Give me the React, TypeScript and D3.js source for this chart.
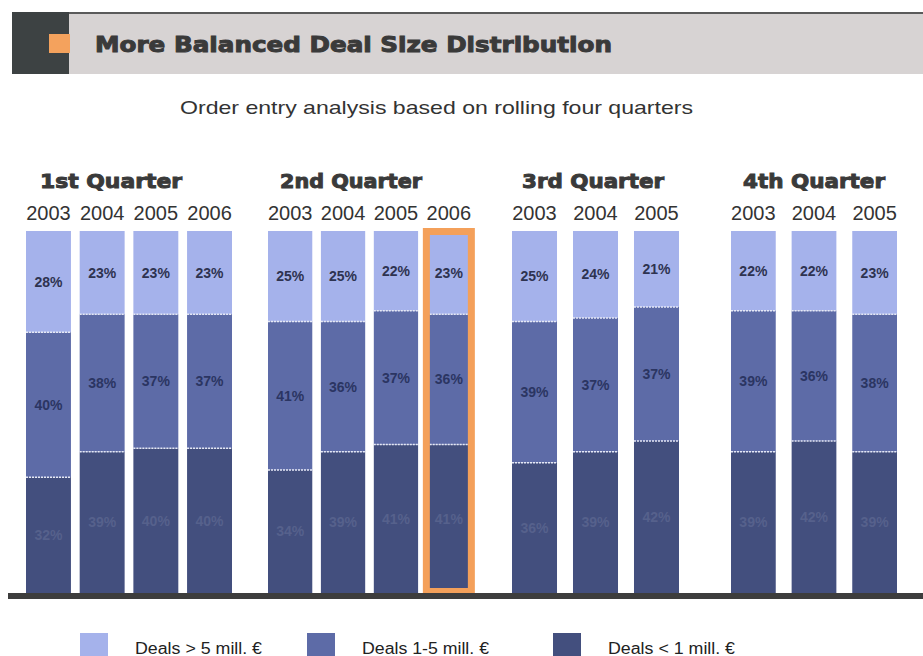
import React from "react";
import * as d3 from "d3";

const quarters = ["1st Quarter", "2nd Quarter", "3rd Quarter", "4th Quarter"];
const years = [
  ["2003", "2004", "2005", "2006"],
  ["2003", "2004", "2005", "2006"],
  ["2003", "2004", "2005"],
  ["2003", "2004", "2005"],
];
// Deals > 5 mill. €
const large = [
  [28, 23, 23, 23],
  [25, 25, 22, 23],
  [25, 24, 21],
  [22, 22, 23],
];
// Deals 1-5 mill. €
const medium = [
  [40, 38, 37, 37],
  [41, 36, 37, 36],
  [39, 37, 37],
  [39, 36, 38],
];
// Deals < 1 mill. €
const small = [
  [32, 39, 40, 40],
  [34, 39, 41, 41],
  [36, 39, 42],
  [39, 42, 39],
];
const seriesNames = ["Deals > 5 mill. €", "Deals 1-5 mill. €", "Deals < 1 mill. €"];
const highlight = { q: 1, i: 3 };

const W = 923;
const H = 656;
const groupRanges: [number, number][] = [
  [26, 232],
  [268, 471],
  [512, 679],
  [731, 897],
];
const qLabelX = [40, 280, 522, 743];
const colors = ["#a5b2eb", "#5d6ba7", "#434f7e"];
const labelColors = ["#2e3350", "#2b3562", "#56618c"];
const FONT = "'Liberation Sans', Arial, sans-serif";
const BOLD = "'DejaVu Sans', 'Liberation Sans', sans-serif";

export default function App() {
  const y = d3.scaleLinear().domain([0, 100]).range([593, 231]);
  const legendX = [80, 307, 553];

  return (
    <svg
      width={W}
      height={H}
      style={{ position: "absolute", left: 0, top: 0, background: "#fff" }}
    >
      {/* header */}
      <rect x={12} y={13} width={W - 12} height={61} fill="#d7d3d3" />
      <rect x={12} y={12} width={W - 12} height={2} fill="#5a5a5a" />
      <rect x={12} y={12} width={57} height={62} fill="#3d4243" />
      <rect x={49} y={34} width={21} height={19} fill="#f4a25d" />
      <text
        x={95}
        y={52}
        fontFamily={BOLD}
        fontWeight="bold"
        fontSize={22}
        fill="#3a3a3a"
        stroke="#3a3a3a"
        strokeWidth={1}
        textLength={517}
        lengthAdjust="spacingAndGlyphs"
      >
        More Balanced Deal Size Distribution
      </text>
      <text
        x={180}
        y={114}
        fontFamily={FONT}
        fontSize={19}
        fill="#333"
        textLength={513}
        lengthAdjust="spacingAndGlyphs"
      >
        Order entry analysis based on rolling four quarters
      </text>

      {quarters.map((q, qi) => {
        const x = d3
          .scaleBand<string>()
          .domain(years[qi])
          .range(groupRanges[qi])
          .paddingInner(years[qi].length === 4 ? 0.163 : 0.262)
          .paddingOuter(0);
        const bw = x.bandwidth();
        return (
          <g key={q}>
            <text
              x={qLabelX[qi]}
              y={188}
              fontFamily={BOLD}
              fontWeight="bold"
              fontSize={20}
              fill="#3a3a3a"
              stroke="#3a3a3a"
              strokeWidth={1}
              textLength={142}
              lengthAdjust="spacingAndGlyphs"
            >
              {q}
            </text>
            {years[qi].map((yr, i) => {
              const x0 = x(yr)!;
              const cx = x0 + bw / 2;
              const vals = [large[qi][i], medium[qi][i], small[qi][i]];
              const b2 = small[qi][i];
              const b1 = b2 + medium[qi][i];
              const segs = [
                { lo: b1, hi: 100 },
                { lo: b2, hi: b1 },
                { lo: 0, hi: b2 },
              ];
              const isHl = highlight.q === qi && highlight.i === i;
              return (
                <g key={yr}>
                  <text
                    x={cx}
                    y={220}
                    textAnchor="middle"
                    fontFamily={FONT}
                    fontSize={20}
                    fill="#333"
                  >
                    {yr}
                  </text>
                  {segs.map((s, si) => (
                    <rect
                      key={si}
                      x={x0}
                      y={y(s.hi)}
                      width={bw}
                      height={y(s.lo) - y(s.hi)}
                      fill={colors[si]}
                    />
                  ))}
                  {[b1, b2].map((b, k) => (
                    <line
                      key={k}
                      x1={x0}
                      x2={x0 + bw}
                      y1={y(b)}
                      y2={y(b)}
                      stroke="#e6e9f7"
                      strokeWidth={1.5}
                      strokeDasharray="2,1"
                    />
                  ))}
                  {segs.map((s, si) => (
                    <text
                      key={"l" + si}
                      x={cx}
                      y={(y(s.hi) + y(s.lo)) / 2 + 5}
                      textAnchor="middle"
                      fontFamily={FONT}
                      fontWeight="bold"
                      fontSize={14}
                      fill={labelColors[si]}
                    >
                      {vals[si]}%
                    </text>
                  ))}
                  {isHl && (
                    <rect
                      x={cx - 22.5}
                      y={231.5}
                      width={45}
                      height={360}
                      fill="none"
                      stroke="#f4a05a"
                      strokeWidth={7}
                    />
                  )}
                </g>
              );
            })}
          </g>
        );
      })}

      {/* baseline */}
      <rect x={8} y={593} width={W - 8} height={6} fill="#3d3d3d" />

      {/* legend */}
      {seriesNames.map((n, i) => (
        <g key={n}>
          <rect x={legendX[i]} y={633} width={28} height={28} fill={colors[i]} />
          <text
            x={legendX[i] + 55}
            y={654}
            fontFamily={FONT}
            fontSize={16}
            fill="#222"
            textLength={127}
            lengthAdjust="spacingAndGlyphs"
          >
            {n}
          </text>
        </g>
      ))}
    </svg>
  );
}
